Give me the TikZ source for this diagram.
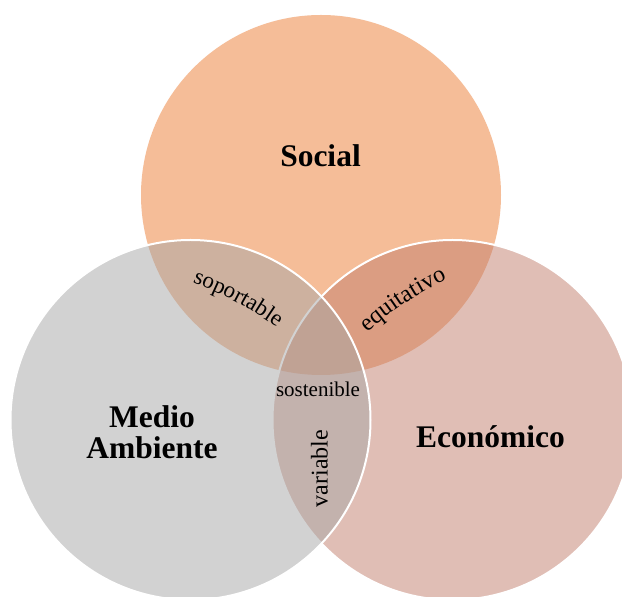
\documentclass[tikz,border=0pt]{standalone}
\usepackage{fontspec}
\setmainfont{Liberation Serif}
\usetikzlibrary{decorations.text}
\definecolor{socialc}{HTML}{F5BD98}
\definecolor{medioc}{HTML}{A7A7A7}
\definecolor{econc}{HTML}{C37F6D}
\tikzset{
  venn/.style={circle, minimum size=360pt, inner sep=0pt, outer sep=0pt},
  vennline/.style={draw=white, line width=2pt},
  title/.style={font=\fontsize{31.5}{31}\selectfont\bfseries, inner sep=0pt, anchor=base, align=center},
  lbl/.style={inner sep=0pt, anchor=base},
}
\begin{document}
\begin{tikzpicture}[x=1pt,y=1pt]
\useasboundingbox (0,0) rectangle (622,597);
\fill[white] (0,0) rectangle (622,597);
\begin{scope}
  \clip (0,0) rectangle (622,597);
  \node[venn, fill=socialc] (social) at (321,402) {};
  \node[venn, fill=econc, fill opacity=0.5, vennline] (econ) at (452.5,177) {};
  \node[venn, fill=medioc, fill opacity=0.5, vennline] (medio) at (190.5,177) {};
\end{scope}
\node[title] (tsocial) at (320.5,430) {Social};
\node[title, anchor=center] (tmedio) at (152,165) {Medio\\Ambiente};
\node[title] (tecon) at (490.5,149) {Económico};
\node[lbl, font=\fontsize{21}{21}\selectfont] (tsost) at (318,200) {sostenible};
\node[lbl, rotate=90, font=\fontsize{24}{24}\selectfont] (tvar) at (327.7,128.5) {variable};
\path[decorate, decoration={text along path, text align=center,
  text={|\fontsize{23}{23}\selectfont|soportable}}]
  ([shift={(72,-14)}]74:349.8) arc[start angle=74, end angle=50, radius=349.8];
\path[decorate, decoration={text along path, text align=center,
  text={|\fontsize{24}{24}\selectfont|equitativo}}]
  ([shift={(609,-15)}]135.4:370) arc[start angle=135.4, end angle=111.4, radius=370];
\end{tikzpicture}
\end{document}
